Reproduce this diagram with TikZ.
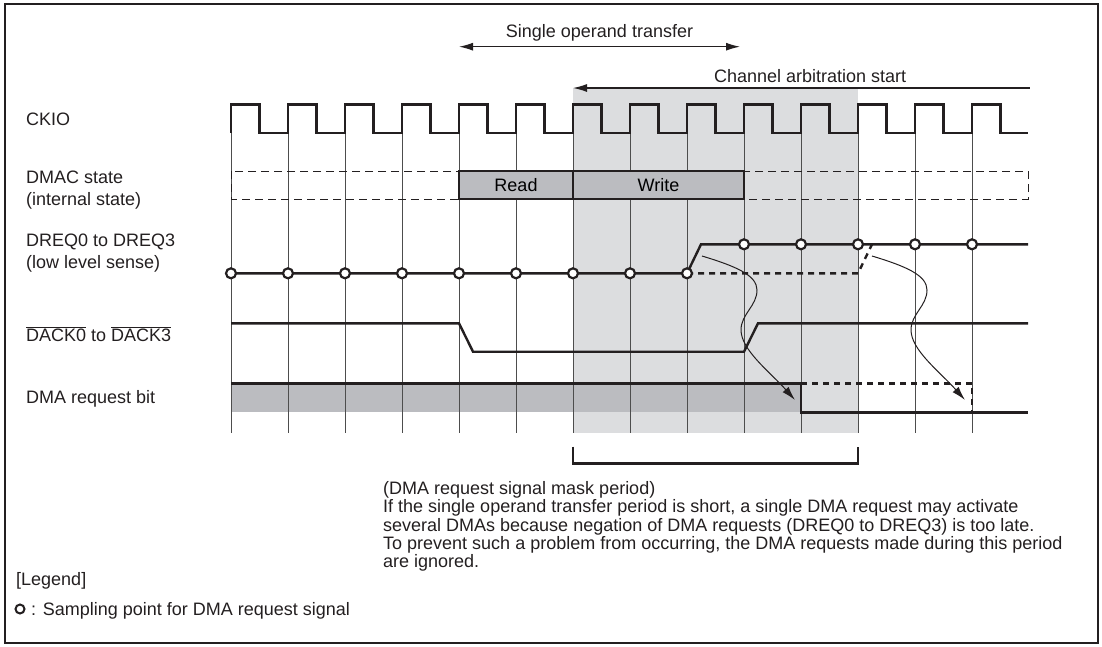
\documentclass[tikz,border=0pt]{standalone}
\usepackage{fontspec}
\setmainfont{Liberation Sans}
\usetikzlibrary{arrows.meta,positioning}
\definecolor{claro}{HTML}{DCDDDF}
\definecolor{medio}{HTML}{BBBCC0}
\definecolor{gris}{HTML}{4D4D4D}
\definecolor{tinta}{HTML}{231F20}

\begin{document}
\begin{tikzpicture}[x=1pt,y=-1pt,line join=miter,
          txt/.style={font=\fontsize{18}{21.7}\selectfont,inner sep=0pt,align=left,tinta},
          sig/.style={line width=2.4pt,tinta},
          sigdash/.style={line width=2.4pt,tinta,dash pattern=on 6pt off 5pt},
          gridln/.style={gris,line width=1pt},
          samp/.style={circle,draw=tinta,fill=white,line width=2.2pt,inner sep=0pt,minimum size=10pt},
          statebox/.style={draw=tinta,line width=2.4pt,fill=medio,inner sep=0pt,
                           minimum height=28pt,font=\fontsize{18}{21.7}\selectfont},
          spanarr/.style={line width=1.2pt,tinta,
                          {Latex[length=14pt,width=8pt]}-{Latex[length=14pt,width=8pt]}},
          req/.style={line width=1pt,tinta,-{Latex[length=14pt,width=8pt]}}]
        \useasboundingbox (0,0) rectangle (1102,646);
        \draw[line width=2pt,tinta] (5,4) rectangle (1098,643);
        \fill[claro] (573,88) rectangle (858,433);
        \fill[medio] (231,383.3) rectangle (801,412.3);
        \foreach \i in {0,...,13}
          \draw[gridln] ({231+57*\i},132.7) -- ({231+57*\i},433);
        \draw[tinta,line width=1pt,dash pattern=on 8pt off 5pt] (231,171) rectangle (1028,199);
        \node[statebox,minimum width=114pt] (rd) at (516,185) {Read};
        \node[statebox,minimum width=171pt] (wr) at (658.5,185) {Write};
        \draw[sig] (231,132.7) \foreach \i in {0,...,13}{
              -- ({231+57*\i},132.7) -- ({231+57*\i},104.3)
              -- ({259.5+57*\i},104.3) -- ({259.5+57*\i},132.7)} -- (1028,132.7);
        \draw[sigdash] (687,273.3) -- (858,273.3) -- (872,244.3);
        \draw[sig] (231,273.3) -- (687,273.3) -- (701,244.3) -- (1028,244.3);
        \foreach \i in {0,...,8}
          \node[samp] (lo\i) at ({231+57*\i},273.3) {};
        \foreach \i in {9,...,13}
          \node[samp] (hi\i) at ({231+57*\i},244.3) {};
        \draw[sig] (231,323.3) -- (459,323.3) -- (473,351.7) -- (744,351.7)
              -- (758,323.3) -- (1028,323.3);
        \draw[sigdash] (801,383.3) -- (972,383.3) -- (972,412.3);
        \draw[sig] (231,383.3) -- (801,383.3) -- (801,412.3) -- (1028,412.3);
        \foreach \s/\n in {0/a,170/b}{
          \coordinate (rise\n) at ({702+\s},256);
          \coordinate (clr\n) at ({795+\s},400);
          \draw[req] (rise\n) .. controls ({735+\s},266) and ({757+\s},275) .. ({757+\s},290)
                .. controls ({757+\s},306) and ({741+\s},314) .. ({741+\s},330)
                .. controls ({741+\s},350) and ({770+\s},372) .. (clr\n);
        }
        \coordinate (sotL) at (459,46.7);
        \coordinate (sotR) at (740,46.7);
        \draw[spanarr] (sotL) -- (sotR) node[txt,midway,above=5pt] (sot) {Single operand transfer};
        \coordinate (casL) at (573,88);
        \coordinate (casR) at (1030,88);
        \draw[line width=1.2pt,tinta,{Latex[length=14pt,width=8pt]}-] (casL) -- (casR)
              node[txt,pos=0.519,above=5pt] (cas) {Channel arbitration start};
        \coordinate (mskL) at (573,446.7);
        \coordinate (mskR) at (858,446.7);
        \draw[sig] (mskL) -- ++(0,16.6) -| (mskR);
        \node[txt,anchor=base west] (ckio) at (26,125) {CKIO};
        \node[txt,anchor=west] (dmac) at (26,189.8) {DMAC state\\(internal state)};
        \node[txt,anchor=west] (dreq) at (26,252.8) {DREQ0 to DREQ3\\(low level sense)};
        \node[txt,anchor=base west] (dack) at (26,341.5)
          {$\overline{\mbox{DACK0}}$ to $\overline{\mbox{DACK3}}$};
        \node[txt,anchor=base west] (dmabit) at (26,403) {DMA request bit};
        \node[txt,anchor=north west,font=\fontsize{18}{18.4}\selectfont] (note) at (383,481)
          {(DMA request signal mask period)\\
           If the single operand transfer period is short, a single DMA request may activate\\
           several DMAs because negation of DMA requests (DREQ0 to DREQ3) is too late.\\
           To prevent such a problem from occurring, the DMA requests made during this period\\
           are ignored.};
        \node[txt,anchor=base west] (legend) at (16,585.5) {[Legend]};
        \node[circle,draw=tinta,line width=2pt,inner sep=0pt,minimum size=9pt] (legcirc) at (20,609) {};
        \node[txt,anchor=base west] (legtxt) at (31,615.5) {: Sampling point for DMA request signal};
      \end{tikzpicture}
\end{document}
